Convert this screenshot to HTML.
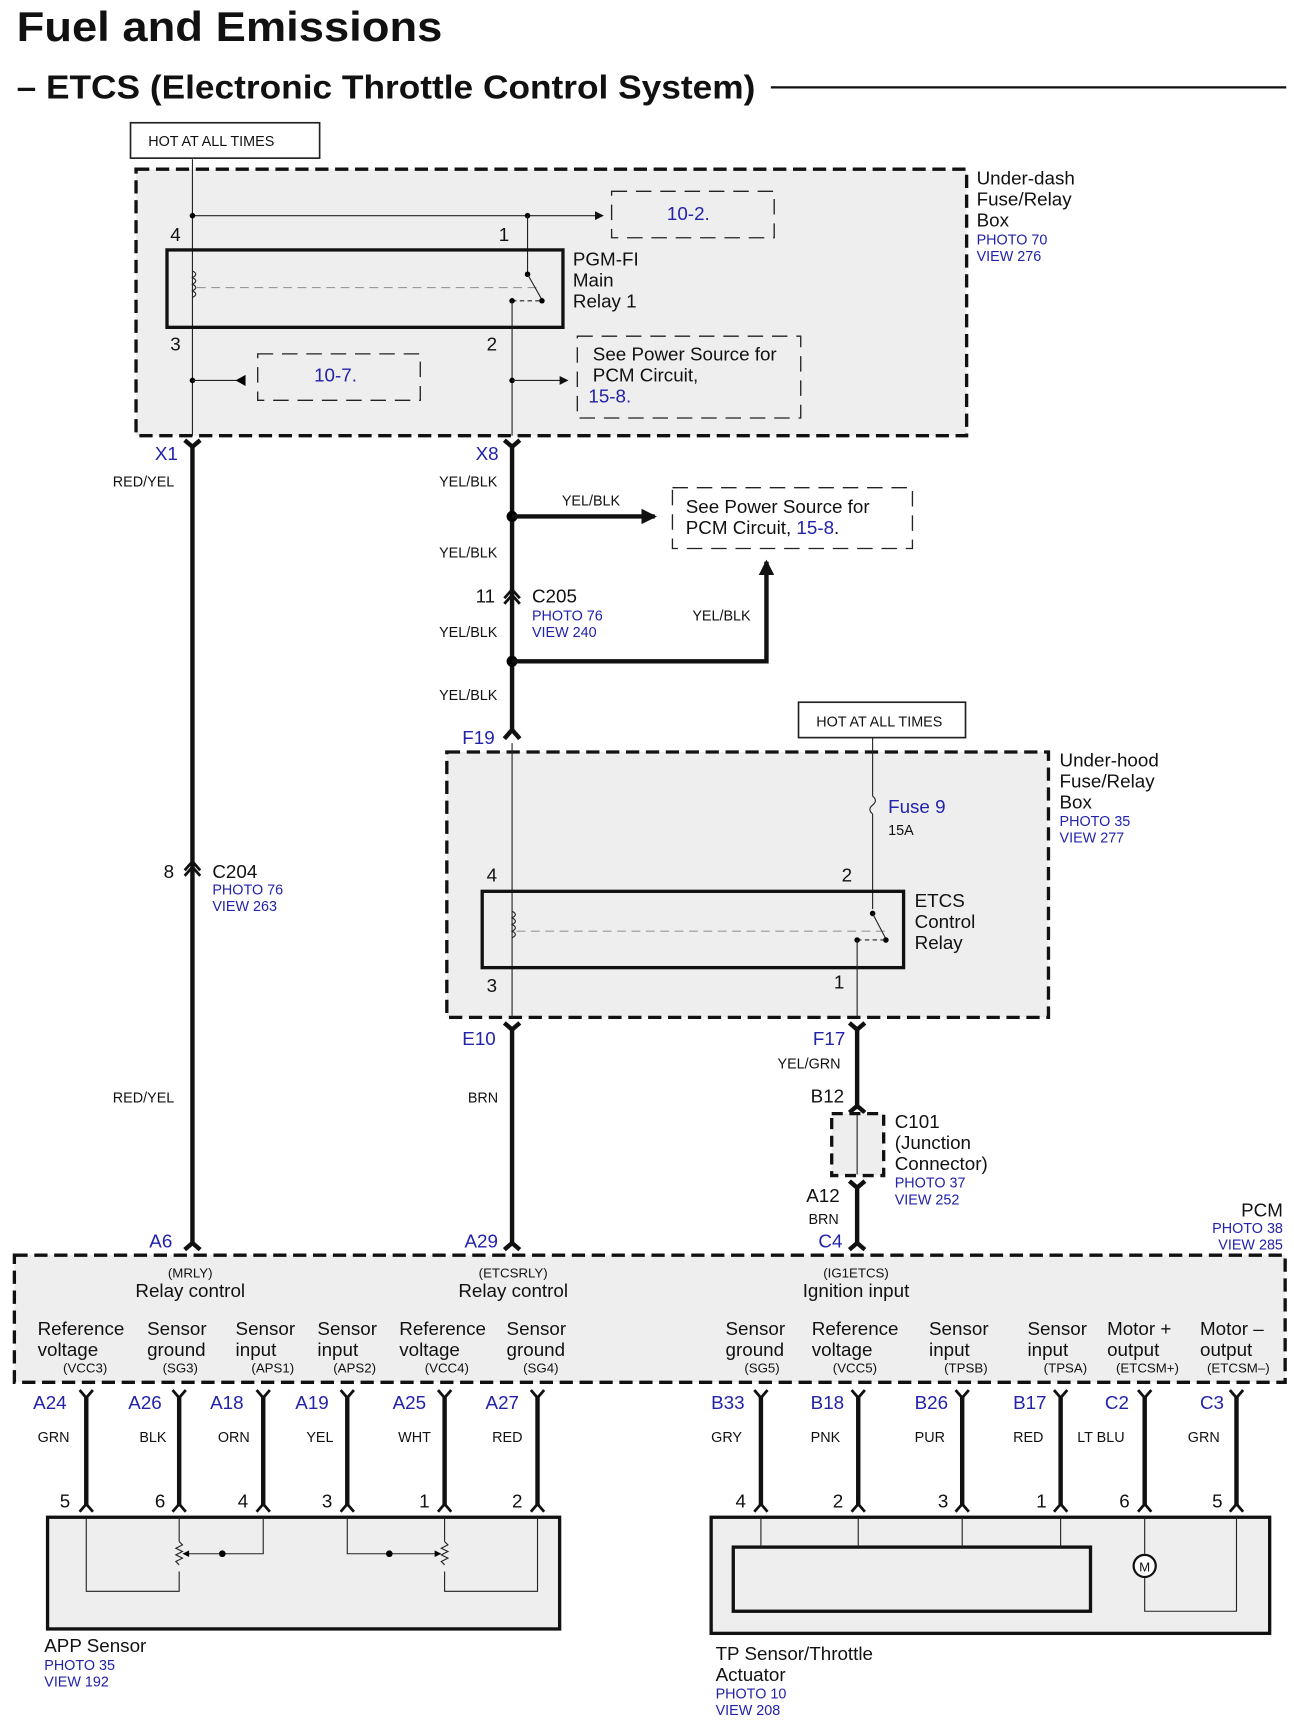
<!DOCTYPE html>
<html><head><meta charset="utf-8"><style>
html,body{margin:0;padding:0;background:#fff}
svg{display:block}
text{font-family:"Liberation Sans",Arial,sans-serif;fill:#111}
.b{fill:#2222aa}
.s{font-size:13px}.m{font-size:17px}.t{font-size:12px}
.thin{stroke:#222;stroke-width:1;fill:none}
.thk{stroke:#111;stroke-width:4;fill:none}
.box{fill:#eeeeee;stroke:#111;stroke-width:3;stroke-dasharray:12 6}
.db{fill:#eee;stroke:#222;stroke-width:1.2;stroke-dasharray:14 8}
</style></head><body>
<svg width="1294" height="1734" viewBox="0 0 1170 1568" preserveAspectRatio="none" xmlns="http://www.w3.org/2000/svg">
<defs>
<marker id="ar" markerWidth="8" markerHeight="8" refX="7" refY="4" orient="auto" markerUnits="userSpaceOnUse"><path d="M0,0 L8,4 L0,8z" fill="#111"/></marker>
<marker id="ar2" markerWidth="14" markerHeight="14" refX="12" refY="7" orient="auto" markerUnits="userSpaceOnUse"><path d="M0,0 L14,7 L0,14z" fill="#111"/></marker>
</defs>
<text x="15" y="37" style="font-size:38px;font-weight:bold" textLength="385" lengthAdjust="spacingAndGlyphs">Fuel and Emissions</text>
<text x="15" y="89" style="font-size:30px;font-weight:bold" textLength="668" lengthAdjust="spacingAndGlyphs">– ETCS (Electronic Throttle Control System)</text>
<line x1="697" y1="79" x2="1163" y2="79" stroke="#111" stroke-width="2"/>

<rect x="118" y="111" width="171" height="32" fill="#fff" stroke="#222" stroke-width="1.5"/>
<text x="134" y="132" class="s">HOT AT ALL TIMES</text>

<!-- Under-dash box -->
<rect x="123" y="153" width="751" height="241" class="box"/>
<text x="883" y="167" class="m">Under-dash</text><text x="883" y="186" class="m">Fuse/Relay</text><text x="883" y="205" class="m">Box</text>
<text x="883" y="221" class="s b">PHOTO 70</text><text x="883" y="236" class="s b">VIEW 276</text>
<line x1="174" y1="144" x2="174" y2="394" class="thin"/>
<line x1="174" y1="195" x2="545" y2="195" class="thin" marker-end="url(#ar)"/>
<circle cx="174" cy="195" r="2.5"/><circle cx="477" cy="195" r="2.5"/>
<line x1="477" y1="195" x2="477" y2="250" class="thin"/>
<rect x="553" y="173" width="147" height="42" class="db"/>
<text x="603" y="199" class="m b">10-2.</text>
<text x="154" y="218" class="m">4</text><text x="451" y="218" class="m">1</text>
<rect x="151" y="226" width="358" height="70" fill="none" stroke="#111" stroke-width="3"/>
<path d="M174,245 q6,3 0,6 q6,3 0,6 q6,3 0,6 q6,3 0,6" class="thin"/>
<line x1="178" y1="260" x2="490" y2="260" stroke="#999" stroke-dasharray="8 5"/>
<circle cx="477" cy="248" r="2.5"/><line x1="477" y1="248" x2="490" y2="271" class="thin"/><circle cx="490" cy="272" r="2.5"/>
<line x1="463" y1="272" x2="490" y2="272" class="thin" stroke-dasharray="4 3"/><circle cx="463" cy="272" r="2.5"/>
<line x1="463" y1="272" x2="463" y2="394" class="thin"/>
<text x="518" y="240" class="m">PGM-FI</text><text x="518" y="259" class="m">Main</text><text x="518" y="278" class="m">Relay 1</text>
<text x="154" y="317" class="m">3</text><text x="440" y="317" class="m">2</text>
<circle cx="174" cy="344" r="2.5"/><line x1="174" y1="344" x2="222" y2="344" class="thin"/>
<path d="M213,344 L222,339 L222,349z"/>
<rect x="233" y="320" width="147" height="42" class="db"/><text x="284" y="345" class="m b">10-7.</text>
<circle cx="463" cy="344" r="2.5"/><line x1="463" y1="344" x2="513" y2="344" class="thin" marker-end="url(#ar)"/>
<rect x="522" y="304" width="202" height="74" class="db"/>
<text x="536" y="326" class="m">See Power Source for</text><text x="536" y="345" class="m">PCM Circuit,</text><text x="532" y="364" class="m b">15-8.</text>

<!-- main wires -->
<path d="M167,398 L174,404 L181,398" class="thk" stroke-width="3"/>
<path d="M456,398 L463,404 L470,398" class="thk" stroke-width="3"/>
<text x="140" y="416" class="m b">X1</text><text x="430" y="416" class="m b">X8</text>
<line x1="174" y1="402" x2="174" y2="1125" class="thk"/>
<line x1="463" y1="402" x2="463" y2="662" class="thk"/>
<text x="102" y="440" class="s">RED/YEL</text><text x="397" y="440" class="s">YEL/BLK</text>
<circle cx="463" cy="467" r="5"/><line x1="463" y1="467" x2="592" y2="467" class="thk" stroke-width="3.5" marker-end="url(#ar2)"/>
<text x="508" y="457" class="s">YEL/BLK</text>
<rect x="608" y="441" width="217" height="55" fill="#fff" stroke="#222" stroke-width="1.2" stroke-dasharray="14 8"/>
<text x="620" y="464" class="m">See Power Source for</text><text x="620" y="483" class="m">PCM Circuit, <tspan class="b">15-8</tspan>.</text>
<text x="397" y="504" class="s">YEL/BLK</text>
<path d="M456,546 L463,538 L470,546 M456,541 L463,533 L470,541" fill="none" stroke="#111" stroke-width="2.5"/>
<text x="430" y="545" class="m">11</text><text x="481" y="545" class="m">C205</text>
<text x="481" y="561" class="s b">PHOTO 76</text><text x="481" y="576" class="s b">VIEW 240</text>
<text x="397" y="576" class="s">YEL/BLK</text>
<circle cx="463" cy="598" r="5"/>
<path d="M463,598 L693,598 L693,508" class="thk" stroke-width="3.5" marker-end="url(#ar2)"/>
<text x="626" y="561" class="s">YEL/BLK</text>
<text x="397" y="633" class="s">YEL/BLK</text>
<text x="418" y="673" class="m b">F19</text>
<path d="M456,668 L463,660 L470,668" class="thk" stroke-width="3"/>

<rect x="722" y="635" width="151" height="32" fill="#fff" stroke="#222" stroke-width="1.5"/>
<text x="738" y="657" class="s">HOT AT ALL TIMES</text>

<!-- Under-hood -->
<rect x="404" y="680" width="544" height="240" class="box"/>
<text x="958" y="693" class="m">Under-hood</text><text x="958" y="712" class="m">Fuse/Relay</text><text x="958" y="731" class="m">Box</text>
<text x="958" y="747" class="s b">PHOTO 35</text><text x="958" y="762" class="s b">VIEW 277</text>
<line x1="463" y1="672" x2="463" y2="920" class="thin"/>
<line x1="789" y1="667" x2="789" y2="720" class="thin"/>
<path d="M789,720 q5,4 0,8 q-5,4 0,8" class="thin"/>
<line x1="789" y1="736" x2="789" y2="822" class="thin"/>
<text x="803" y="735" class="m b">Fuse 9</text><text x="803" y="755" class="s">15A</text>
<text x="440" y="797" class="m">4</text><text x="761" y="797" class="m">2</text>
<rect x="436" y="806" width="381" height="69" fill="none" stroke="#111" stroke-width="3"/>
<path d="M463,824 q6,3 0,6 q6,3 0,6 q6,3 0,6 q6,3 0,6" class="thin"/>
<line x1="467" y1="842" x2="803" y2="842" stroke="#999" stroke-dasharray="8 5"/>
<circle cx="789" cy="826" r="2.5"/><line x1="789" y1="826" x2="801" y2="849" class="thin"/><circle cx="801" cy="850" r="2.5"/>
<line x1="775" y1="850" x2="801" y2="850" class="thin" stroke-dasharray="4 3"/><circle cx="775" cy="850" r="2.5"/>
<line x1="775" y1="850" x2="775" y2="920" class="thin"/>
<text x="827" y="820" class="m">ETCS</text><text x="827" y="839" class="m">Control</text><text x="827" y="858" class="m">Relay</text>
<text x="440" y="897" class="m">3</text><text x="754" y="894" class="m">1</text>
<path d="M456,925 L463,931 L470,925" class="thk" stroke-width="3"/>
<path d="M768,925 L775,931 L782,925" class="thk" stroke-width="3"/>
<text x="418" y="945" class="m b">E10</text><text x="735" y="945" class="m b">F17</text>
<line x1="463" y1="929" x2="463" y2="1125" class="thk"/>
<line x1="775" y1="929" x2="775" y2="1003" class="thk"/>
<path d="M768,1006 L775,1000 L782,1006" class="thk" stroke-width="3"/>
<text x="703" y="966" class="s">YEL/GRN</text><text x="423" y="997" class="s">BRN</text><text x="102" y="997" class="s">RED/YEL</text>
<text x="733" y="997" class="m">B12</text>
<rect x="752" y="1007" width="47" height="56" fill="#eee" stroke="#111" stroke-width="3" stroke-dasharray="10 6"/>
<line x1="775" y1="1008" x2="775" y2="1062" class="thin"/>
<text x="809" y="1020" class="m">C101</text><text x="809" y="1039" class="m">(Junction</text><text x="809" y="1058" class="m">Connector)</text>
<text x="809" y="1074" class="s b">PHOTO 37</text><text x="809" y="1089" class="s b">VIEW 252</text>
<path d="M768,1068 L775,1074 L782,1068" class="thk" stroke-width="3"/>
<line x1="775" y1="1072" x2="775" y2="1125" class="thk"/>
<text x="729" y="1087" class="m">A12</text><text x="731" y="1107" class="s">BRN</text>
<path d="M167,792 L174,784 L181,792 M167,787 L174,779 L181,787" fill="none" stroke="#111" stroke-width="2.5"/>
<text x="148" y="794" class="m">8</text><text x="192" y="794" class="m">C204</text>
<text x="192" y="809" class="s b">PHOTO 76</text><text x="192" y="824" class="s b">VIEW 263</text>

<!-- PCM -->
<path d="M167,1130 L174,1124 L181,1130 M456,1130 L463,1124 L470,1130 M768,1130 L775,1124 L782,1130" class="thk" stroke-width="3"/>
<text x="135" y="1128" class="m b">A6</text><text x="420" y="1128" class="m b">A29</text><text x="740" y="1128" class="m b">C4</text>
<text x="1160" y="1100" class="m" text-anchor="end">PCM</text>
<text x="1160" y="1115" class="s b" text-anchor="end">PHOTO 38</text><text x="1160" y="1130" class="s b" text-anchor="end">VIEW 285</text>
<rect x="13" y="1135" width="1149" height="115" class="box"/>
<g text-anchor="middle">
<text x="172" y="1155" class="t">(MRLY)</text><text x="172" y="1173" class="m">Relay control</text>
<text x="464" y="1155" class="t">(ETCSRLY)</text><text x="464" y="1173" class="m">Relay control</text>
<text x="774" y="1155" class="t">(IG1ETCS)</text><text x="774" y="1173" class="m">Ignition input</text>
</g>
<text x="34" y="1207" class="m">Reference</text><text x="34" y="1226" class="m">voltage</text>
<text x="133" y="1207" class="m">Sensor</text><text x="133" y="1226" class="m">ground</text>
<text x="213" y="1207" class="m">Sensor</text><text x="213" y="1226" class="m">input</text>
<text x="287" y="1207" class="m">Sensor</text><text x="287" y="1226" class="m">input</text>
<text x="361" y="1207" class="m">Reference</text><text x="361" y="1226" class="m">voltage</text>
<text x="458" y="1207" class="m">Sensor</text><text x="458" y="1226" class="m">ground</text>
<text x="656" y="1207" class="m">Sensor</text><text x="656" y="1226" class="m">ground</text>
<text x="734" y="1207" class="m">Reference</text><text x="734" y="1226" class="m">voltage</text>
<text x="840" y="1207" class="m">Sensor</text><text x="840" y="1226" class="m">input</text>
<text x="929" y="1207" class="m">Sensor</text><text x="929" y="1226" class="m">input</text>
<text x="1001" y="1207" class="m">Motor +</text><text x="1001" y="1226" class="m">output</text>
<text x="1085" y="1207" class="m">Motor –</text><text x="1085" y="1226" class="m">output</text>
<g text-anchor="end">
<text x="97" y="1241" class="t">(VCC3)</text><text x="179" y="1241" class="t">(SG3)</text><text x="266" y="1241" class="t">(APS1)</text>
<text x="340" y="1241" class="t">(APS2)</text><text x="424" y="1241" class="t">(VCC4)</text><text x="505" y="1241" class="t">(SG4)</text>
<text x="705" y="1241" class="t">(SG5)</text><text x="793" y="1241" class="t">(VCC5)</text><text x="893" y="1241" class="t">(TPSB)</text>
<text x="983" y="1241" class="t">(TPSA)</text><text x="1066" y="1241" class="t">(ETCSM+)</text><text x="1148" y="1241" class="t">(ETCSM–)</text>
</g>
<!-- lower wires -->
<path class="thk" d="M78,1262V1362M162,1262V1362M238,1262V1362M314,1262V1362M402,1262V1362M486,1262V1362M688,1262V1362M776,1262V1362M870,1262V1362M959,1262V1362M1035,1262V1362M1118,1262V1362"/>
<g fill="none" stroke="#111" stroke-width="2.5">
<path d="M72,1257L78,1264L84,1257M156,1257L162,1264L168,1257M232,1257L238,1264L244,1257M308,1257L314,1264L320,1257M396,1257L402,1264L408,1257M480,1257L486,1264L492,1257M682,1257L688,1264L694,1257M770,1257L776,1264L782,1257M864,1257L870,1264L876,1257M953,1257L959,1264L965,1257M1029,1257L1035,1264L1041,1257M1112,1257L1118,1264L1124,1257"/>
<path d="M72,1367L78,1360L84,1367M156,1367L162,1360L168,1367M232,1367L238,1360L244,1367M308,1367L314,1360L320,1367M396,1367L402,1360L408,1367M480,1367L486,1360L492,1367M682,1367L688,1360L694,1367M770,1367L776,1360L782,1367M864,1367L870,1360L876,1367M953,1367L959,1360L965,1367M1029,1367L1035,1360L1041,1367M1112,1367L1118,1360L1124,1367"/>
</g>
<text x="30" y="1274" class="m b">A24</text><text x="116" y="1274" class="m b">A26</text><text x="190" y="1274" class="m b">A18</text>
<text x="267" y="1274" class="m b">A19</text><text x="355" y="1274" class="m b">A25</text><text x="439" y="1274" class="m b">A27</text>
<text x="643" y="1274" class="m b">B33</text><text x="733" y="1274" class="m b">B18</text><text x="827" y="1274" class="m b">B26</text>
<text x="916" y="1274" class="m b">B17</text><text x="999" y="1274" class="m b">C2</text><text x="1085" y="1274" class="m b">C3</text>
<text x="34" y="1304" class="s">GRN</text><text x="126" y="1304" class="s">BLK</text><text x="197" y="1304" class="s">ORN</text>
<text x="277" y="1304" class="s">YEL</text><text x="360" y="1304" class="s">WHT</text><text x="445" y="1304" class="s">RED</text>
<text x="643" y="1304" class="s">GRY</text><text x="733" y="1304" class="s">PNK</text><text x="827" y="1304" class="s">PUR</text>
<text x="916" y="1304" class="s">RED</text><text x="974" y="1304" class="s">LT BLU</text><text x="1074" y="1304" class="s">GRN</text>
<text x="54" y="1363" class="m">5</text><text x="140" y="1363" class="m">6</text><text x="215" y="1363" class="m">4</text>
<text x="291" y="1363" class="m">3</text><text x="379" y="1363" class="m">1</text><text x="463" y="1363" class="m">2</text>
<text x="665" y="1363" class="m">4</text><text x="753" y="1363" class="m">2</text><text x="848" y="1363" class="m">3</text>
<text x="937" y="1363" class="m">1</text><text x="1012" y="1363" class="m">6</text><text x="1096" y="1363" class="m">5</text>

<!-- APP sensor -->
<rect x="43" y="1372" width="463" height="101" fill="#eee" stroke="#111" stroke-width="3"/>
<path d="M78,1372V1439H162V1421M162,1372V1394M238,1372V1405H168M314,1372V1405H396M402,1372V1394M402,1421V1439H486V1372" class="thin"/>
<path d="M162,1394 l3,3 l-6,3 l6,3 l-6,3 l6,3 l-6,3 l3,3" class="thin"/>
<path d="M402,1394 l3,3 l-6,3 l6,3 l-6,3 l6,3 l-6,3 l3,3" class="thin"/>
<circle cx="201" cy="1405" r="3"/><circle cx="352" cy="1405" r="3"/>
<path d="M165,1405 l6,-3 v6z M399,1405 l-6,-3 v6z"/>
<text x="40" y="1494" class="m">APP Sensor</text><text x="40" y="1510" class="s b">PHOTO 35</text><text x="40" y="1525" class="s b">VIEW 192</text>

<!-- TP sensor -->
<rect x="643" y="1372" width="505" height="105" fill="#eee" stroke="#111" stroke-width="3"/>
<rect x="663" y="1399" width="323" height="58" fill="#eee" stroke="#111" stroke-width="3"/>
<path d="M688,1372V1399M776,1372V1399M870,1372V1399M959,1372V1399M1035,1372V1405M1035,1427V1457H1118V1372" class="thin"/>
<circle cx="1035" cy="1416" r="10" fill="#fff" stroke="#111" stroke-width="2"/>
<text x="1035" y="1421" class="t" text-anchor="middle">M</text>
<text x="647" y="1501" class="m">TP Sensor/Throttle</text><text x="647" y="1520" class="m">Actuator</text>
<text x="647" y="1536" class="s b">PHOTO 10</text><text x="647" y="1551" class="s b">VIEW 208</text>
</svg>
</body></html>
